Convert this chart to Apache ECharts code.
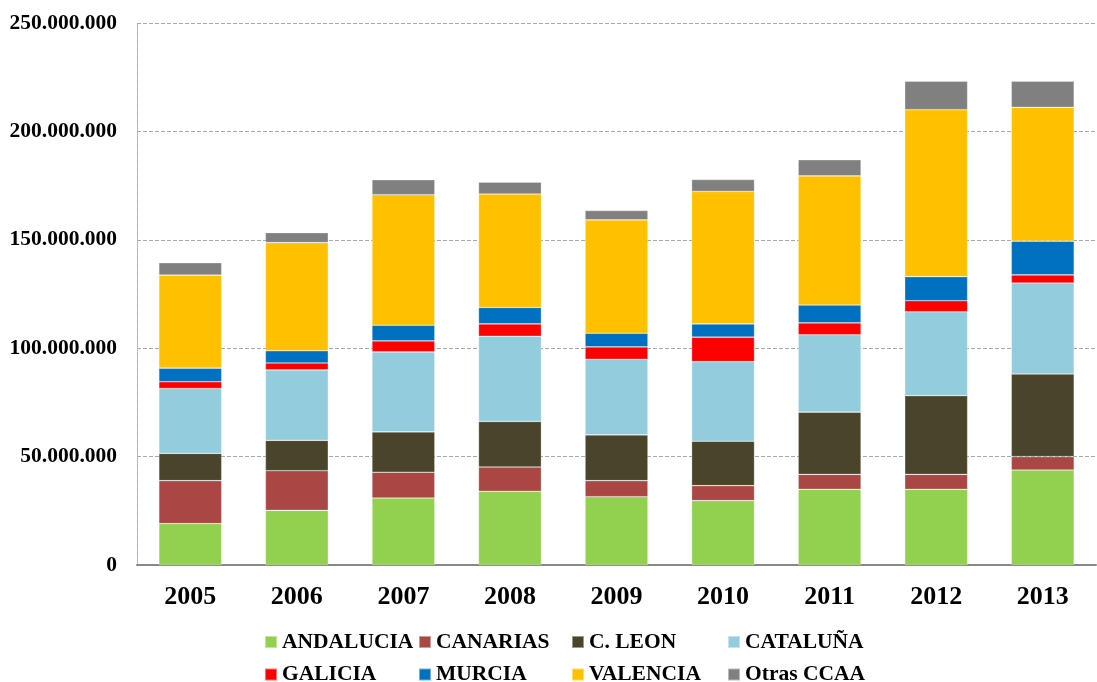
<!DOCTYPE html>
<html>
<head>
<meta charset="utf-8">
<script src="https://cdn.jsdelivr.net/npm/echarts@6/dist/echarts.min.js"></script>
<style>html,body{margin:0;padding:0;background:#fff;}#c{width:1097px;height:682px;}</style>
</head>
<body>
<div id="c"></div>
<script>
const years = ['2005','2006','2007','2008','2009','2010','2011','2012','2013'];
const seriesNames = ['ANDALUCIA','CANARIAS','C. LEON','CATALUÑA','GALICIA','MURCIA','VALENCIA','Otras CCAA'];
// values in millions
const andalucia = [19.1, 25.2, 30.9, 34.0, 31.5, 29.7, 34.9, 34.9, 43.8];
const canarias  = [19.8, 18.3, 11.9, 11.2,  7.4,  6.9,  6.9,  6.9,  6.2];
const cleon     = [12.6, 14.0, 18.6, 21.0, 21.1, 20.5, 28.7, 36.3, 38.1];
const cataluna  = [29.9, 32.5, 36.9, 39.3, 34.9, 36.7, 35.7, 38.7, 42.0];
const galicia   = [ 3.1,  3.2,  5.1,  5.7,  5.7, 11.3,  5.5,  5.1,  3.7];
const murcia    = [ 6.3,  5.6,  7.2,  7.6,  6.3,  6.1,  8.2, 11.1, 15.6];
const valencia  = [42.9, 49.9, 60.2, 52.3, 52.3, 61.1, 59.6, 77.0, 61.7];
const otras     = [ 5.7,  4.6,  6.9,  5.5,  4.3,  5.5,  7.4, 13.1, 12.0];
const colors = ['#92D050','#AA4643','#4A452A','#93CDDD','#FF0000','#0070C0','#FFC000','#808080'];
const allData = [andalucia, canarias, cleon, cataluna, galicia, murcia, valencia, otras];

const fmt = v => String(Math.round(v)).replace(/\B(?=(\d{3})+(?!\d))/g, '.');
const font = 'Liberation Serif';

const series = seriesNames.map((n, i) => ({
  name: n, type: 'bar', stack: 'total', barCategoryGap: '41%',
  itemStyle: { color: colors[i], borderColor: 'rgba(255,255,255,0.45)', borderWidth: 0.6 },
  data: allData[i].map(v => Math.round(v * 1e6))
}));

const legendLefts = [264, 418, 571, 727];
const legendTops = [631, 663.5];
const legends = seriesNames.map((n, j) => ({
  orient: 'horizontal', left: legendLefts[j % 4], top: legendTops[Math.floor(j / 4)], padding: 0,
  itemWidth: 12, itemHeight: 12, icon: 'rect',
  textStyle: { fontFamily: font, fontWeight: 'bold', fontSize: 21.5, color: '#000', lineHeight: 16 },
  data: [n],
  selectedMode: false
}));

const chart = echarts.init(document.getElementById('c'), null, { renderer: 'canvas' });
chart.setOption({
  animation: false,
  color: colors,
  grid: { left: 137, right: 1, top: 23, bottom: 117, containLabel: false },
  legend: legends,
  xAxis: {
    type: 'category', data: years,
    axisLine: { show: true, lineStyle: { color: '#888', width: 2 } },
    axisTick: { show: false },
    axisLabel: { margin: 19, fontFamily: font, fontWeight: 'bold', fontSize: 26, color: '#000' }
  },
  yAxis: {
    type: 'value', min: 0, max: 250000000, interval: 50000000,
    axisLine: { show: true, lineStyle: { color: '#aaa', type: 'dotted', width: 1 } },
    axisTick: { show: false },
    splitLine: { show: true, lineStyle: { color: '#a6a6a6', type: 'dashed', width: 1 } },
    axisLabel: { margin: 20, fontFamily: font, fontWeight: 'bold', fontSize: 21.5, color: '#000', formatter: fmt }
  },
  series: series
});
</script>
</body>
</html>
